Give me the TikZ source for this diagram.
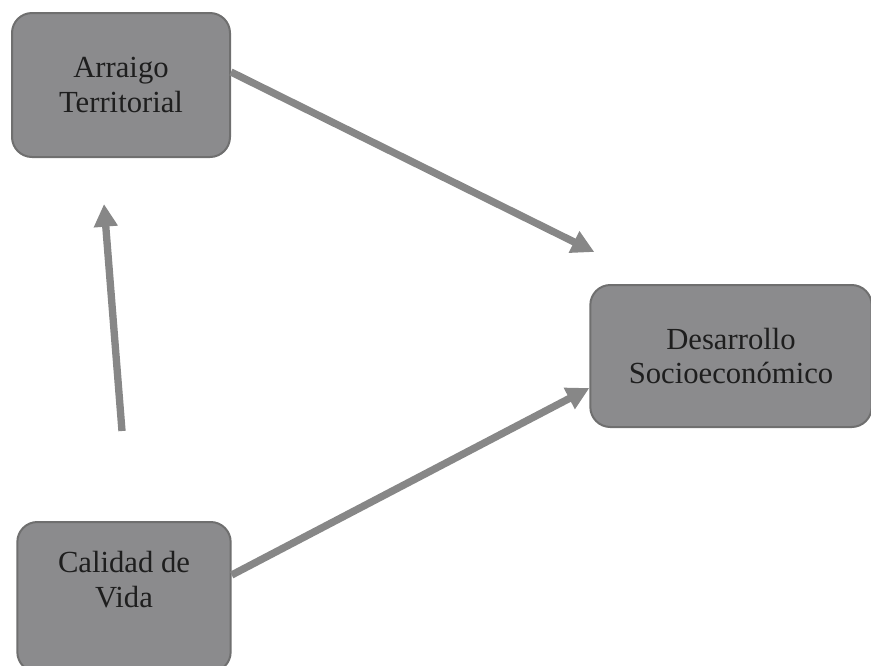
\documentclass[tikz,border=0pt]{standalone}
\usepackage{fontspec}
\setmainfont{Liberation Serif}
\usetikzlibrary{arrows.meta}
\definecolor{boxgray}{HTML}{8B8B8D}
\definecolor{edgegray}{HTML}{6F6F6F}
\definecolor{arrgray}{HTML}{878787}
\definecolor{txtgray}{HTML}{1E1E1E}
\begin{document}
\begin{tikzpicture}[x=0.75pt,y=-0.75pt,
caja/.style={draw=edgegray,line width=1.5pt,fill=boxgray,rounded corners=15pt,align=center,text=txtgray,font=\fontsize{23}{26}\selectfont},
flecha/.style={draw=arrgray,line width=5.5pt,-{Triangle[width=17pt,length=17pt]}}]
\useasboundingbox(0,0)rectangle(871,665);
\node[caja,minimum width=163.5pt,minimum height=108pt](arraigo) at (121,85){Arraigo\\Territorial};
\node[caja,minimum width=211pt,minimum height=106.5pt](desarrollo) at (731,356){Desarrollo\\Socioeconómico};
\node[caja,minimum width=160pt,minimum height=112.5pt](calidad) at (124,597){Calidad de\\Vida\\\mbox{}};
\draw[flecha]([shift={(0,-13)}]arraigo.east)--([shift={(5,-32)}]desarrollo.north west);
\draw[flecha]([shift={(-2,-90)}]calidad.north)--([shift={(-17,46)}]arraigo.south);
\draw[flecha]([shift={(0,-22)}]calidad.east)--([shift={(0,32)}]desarrollo.west);
\end{tikzpicture}
\end{document}
